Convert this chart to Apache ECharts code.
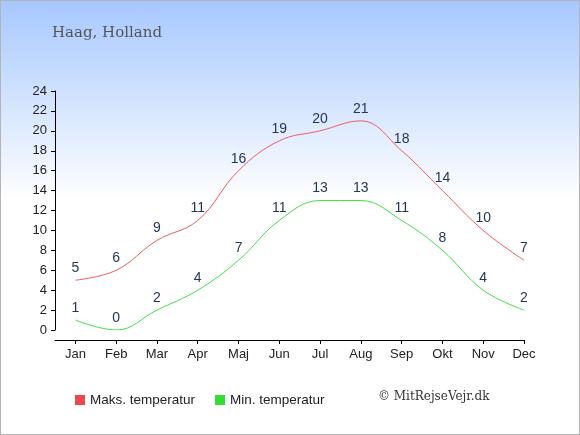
<!DOCTYPE html>
<html>
<head>
<meta charset="utf-8">
<title>Haag, Holland</title>
<script src="https://cdn.jsdelivr.net/npm/echarts@6/dist/echarts.min.js"></script>
<style>
  html, body { margin: 0; padding: 0; background: #fff; }
  #chart { width: 580px; height: 435px; box-sizing: border-box; border: 1px solid #b4b4b4; }
</style>
</head>
<body>
<div id="chart"></div>
<script>
// data
const months = ['Jan', 'Feb', 'Mar', 'Apr', 'Maj', 'Jun', 'Jul', 'Aug', 'Sep', 'Okt', 'Nov', 'Dec'];
const maxTemp = [5, 6, 9, 11, 16, 19, 20, 21, 18, 14, 10, 7];
const minTemp = [1, 0, 2, 4, 7, 11, 13, 13, 11, 8, 4, 2];
const yTicks = [0, 2, 4, 6, 8, 10, 12, 14, 16, 18, 20, 22, 24];

const monthIdx = months.map((m, i) => i);
const toPairs = arr => arr.map((v, i) => [i, v]);

const chart = echarts.init(document.getElementById('chart'), null, { renderer: 'canvas' });

const labelStyle = {
    show: true,
    position: 'top',
    distance: 5,
    color: '#253759',
    fontSize: 14,
    fontFamily: 'Liberation Sans, Arial, sans-serif'
};

chart.setOption({
    animation: false,
    backgroundColor: new echarts.graphic.LinearGradient(0, 0, 0, 1, [
        { offset: 0, color: '#a6c8ff' },
        { offset: 0.46, color: '#ffffff' },
        { offset: 1, color: '#ffffff' }
    ]),
    title: {
        text: 'Haag, Holland',
        left: 46,
        top: 20,
        textStyle: { fontFamily: 'DejaVu Serif', fontWeight: 'normal', fontSize: 15, color: '#555' }
    },
    legend: {
        left: 69,
        top: 387,
        icon: 'rect',
        itemWidth: 10,
        itemHeight: 10,
        itemGap: 20,
        textStyle: { fontFamily: 'Liberation Sans, Arial, sans-serif', fontSize: 13.5, color: '#222' },
        data: ['Maks. temperatur', 'Min. temperatur']
    },
    graphic: [{
        type: 'text',
        left: 377,
        top: 390,
        style: { text: '© MitRejseVejr.dk', font: '12px DejaVu Serif', fill: '#333' }
    }],
    grid: { left: 54, right: 55, top: 90, bottom: 104 },
    xAxis: {
        type: 'value',
        min: -0.5,
        max: 11,
        offset: 10,
        axisLine: { onZero: false, lineStyle: { color: '#000', width: 1 } },
        axisTick: { show: true, length: 4, customValues: monthIdx, lineStyle: { color: '#000' } },
        axisLabel: {
            customValues: monthIdx,
            formatter: v => months[v],
            margin: 8,
            color: '#222',
            fontSize: 13,
            fontFamily: 'Liberation Sans, Arial, sans-serif'
        },
        splitLine: { show: false }
    },
    yAxis: {
        type: 'value',
        min: yTicks[0],
        max: yTicks[yTicks.length - 1],
        interval: 2,
        axisLine: { show: true, onZero: false, lineStyle: { color: '#000', width: 1 } },
        axisTick: { show: true, length: 4, lineStyle: { color: '#000' } },
        axisLabel: { margin: 8, color: '#222', fontSize: 13, fontFamily: 'Liberation Sans, Arial, sans-serif' },
        splitLine: { show: false }
    },
    series: [
        {
            name: 'Maks. temperatur',
            type: 'line',
            smooth: 0.4,
            data: toPairs(maxTemp),
            symbol: 'circle',
            symbolSize: 0,
            lineStyle: { color: '#f25c5c', width: 1 },
            itemStyle: { color: '#f04848' },
            label: labelStyle,
            emphasis: { disabled: true }
        },
        {
            name: 'Min. temperatur',
            type: 'line',
            smooth: 0.4,
            data: toPairs(minTemp),
            symbol: 'circle',
            symbolSize: 0,
            lineStyle: { color: '#44e044', width: 1 },
            itemStyle: { color: '#33dd33' },
            label: labelStyle,
            emphasis: { disabled: true }
        }
    ]
});
</script>
</body>
</html>
